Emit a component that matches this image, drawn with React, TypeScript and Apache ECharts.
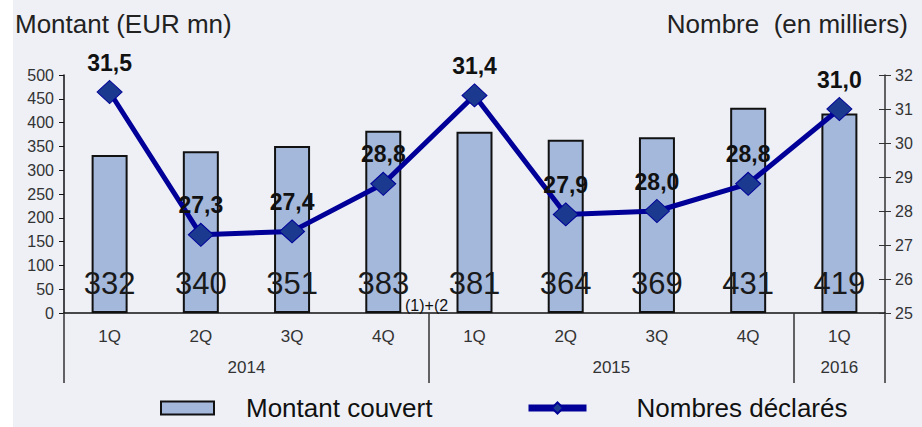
import React, { useEffect, useRef } from "react";
import * as echarts from "echarts";

const quarters = ["1Q", "2Q", "3Q", "4Q", "1Q", "2Q", "3Q", "4Q", "1Q"];
const years = [
  { label: "2014", count: 4 },
  { label: "2015", count: 4 },
  { label: "2016", count: 1 },
];
const montant = [332, 340, 351, 383, 381, 364, 369, 431, 419];
const nombres = [31.5, 27.3, 27.4, 28.8, 31.4, 27.9, 28.0, 28.8, 31.0];
const leftTicks = { min: 0, max: 500, interval: 50 };
const rightTicks = { min: 25, max: 32, interval: 1 };
const seriesNames = ["Montant couvert", "Nombres déclarés"];
const titles = ["Montant (EUR mn)", "Nombre  (en milliers)"];
const footnote = "(1)+(2";

export default function App() {
  const ref = useRef<HTMLDivElement>(null);
  useEffect(() => {
    if (!ref.current) return;
    const chart = echarts.init(ref.current, undefined, { renderer: "svg" });

    // year axis: half-slot positions (boundaryGap false), 2*N+1 slots
    const n = quarters.length;
    const slots: string[] = [];
    for (let i = 0; i <= 2 * n; i++) slots.push(String(i));
    const yearLabelAt: Record<number, string> = {};
    const sepAt = new Set<number>();
    let start = 0;
    sepAt.add(0);
    years.forEach((y) => {
      yearLabelAt[2 * start + y.count] = y.label;
      start += y.count;
      sepAt.add(2 * start);
    });

    const font = "Liberation Sans, Arial, sans-serif";
    const axisColor = "#333";

    chart.setOption({
      animation: false,
      backgroundColor: "#eef0f6",
      textStyle: { fontFamily: font },
      grid: { left: 64, right: 37, top: 75, bottom: 114 },
      legend: [
        {
          data: [
            {
              name: seriesNames[0],
              icon: "rect",
              itemStyle: { color: "#a4b8dc", borderColor: "#111", borderWidth: 2 },
            },
          ],
          left: 160,
          top: 395,
          padding: 0,
          itemWidth: 53,
          itemHeight: 13,
          textStyle: { fontSize: 26, color: "#111", padding: [0, 0, 0, 27] },
        },
        {
          data: [seriesNames[1]],
          left: 525,
          top: 395,
          padding: 0,
          itemWidth: 58,
          itemHeight: 14,
          lineStyle: { width: 7, color: "#000099" },
          textStyle: { fontSize: 26, color: "#111", padding: [0, 0, 0, 45] },
        },
      ],
      xAxis: [
        {
          type: "category",
          data: quarters,
          position: "bottom",
          axisLine: { lineStyle: { color: "#111", width: 1.5 } },
          axisTick: { show: false },
          axisLabel: { fontSize: 17, color: axisColor, margin: 15, interval: 0 },
        },
        {
          type: "category",
          data: slots,
          position: "bottom",
          boundaryGap: false,
          axisLine: { show: false },
          axisTick: {
            show: true,
            length: 70,
            interval: (idx: number) => sepAt.has(idx),
            lineStyle: { color: axisColor, width: 1.5 },
          },
          axisLabel: {
            interval: 0,
            fontSize: 17,
            color: axisColor,
            margin: 46,
            formatter: (v: string) => yearLabelAt[Number(v)] || "",
          },
        },
      ],
      yAxis: [
        {
          type: "value",
          position: "left",
          min: leftTicks.min,
          max: leftTicks.max,
          interval: leftTicks.interval,
          splitLine: { show: false },
          axisLine: { show: true, lineStyle: { color: "#111", width: 1.5 } },
          axisTick: { show: true, length: 5, lineStyle: { color: "#111" } },
          axisLabel: { fontSize: 16, color: axisColor, margin: 10 },
        },
        {
          type: "value",
          position: "right",
          min: rightTicks.min,
          max: rightTicks.max,
          interval: rightTicks.interval,
          splitLine: { show: false },
          axisLine: { show: true, lineStyle: { color: axisColor, width: 1.5 } },
          axisTick: { show: true, length: 6, lineStyle: { color: axisColor } },
          axisLabel: { fontSize: 16, color: axisColor, margin: 10 },
        },
        {
          type: "value",
          position: "right",
          min: rightTicks.min,
          max: rightTicks.max,
          interval: rightTicks.interval,
          splitLine: { show: false },
          axisLine: { show: false },
          axisTick: { show: true, inside: true, length: 6, lineStyle: { color: axisColor } },
          axisLabel: { show: false },
        },
      ],
      series: [
        {
          name: seriesNames[0],
          type: "bar",
          data: montant,
          barWidth: 36,
          itemStyle: { color: "#a4b8dc", borderColor: "#111", borderWidth: 2 },
          label: {
            show: true,
            position: "insideBottom",
            distance: 14,
            fontSize: 31,
            color: "#1a1a1a",
          },
          z: 2,
        },
        {
          name: seriesNames[1],
          type: "line",
          yAxisIndex: 1,
          data: nombres,
          symbol: "diamond",
          symbolSize: [25, 23],
          lineStyle: { color: "#000099", width: 5 },
          itemStyle: { color: "#1b3a8f", borderColor: "#000099", borderWidth: 1 },
          label: {
            show: true,
            position: "top",
            distance: 6,
            fontSize: 23,
            fontWeight: "bold",
            color: "#111",
            formatter: (p: any) => p.value.toFixed(1).replace(".", ","),
          },
          z: 5,
        },
      ],
      graphic: [
        {
          type: "rect",
          left: 0,
          top: 0,
          shape: { width: 13, height: 427 },
          style: { fill: "#ffffff" },
          z: -10,
        },
        {
          type: "text",
          left: 15,
          top: 11,
          style: { text: titles[0], fontSize: 26, fill: "#222", fontFamily: font },
        },
        {
          type: "text",
          right: 14,
          top: 11,
          style: { text: titles[1], fontSize: 26, fill: "#222", fontFamily: font },
        },
        {
          type: "text",
          left: 405,
          top: 297,
          style: { text: footnote, fontSize: 16, fill: "#111", fontFamily: font },
          z: 10,
        },
      ],
    });
    return () => chart.dispose();
  }, []);
  return (
    <div
      ref={ref}
      style={{ position: "fixed", left: 0, top: 0, width: 922, height: 427 }}
    />
  );
}
